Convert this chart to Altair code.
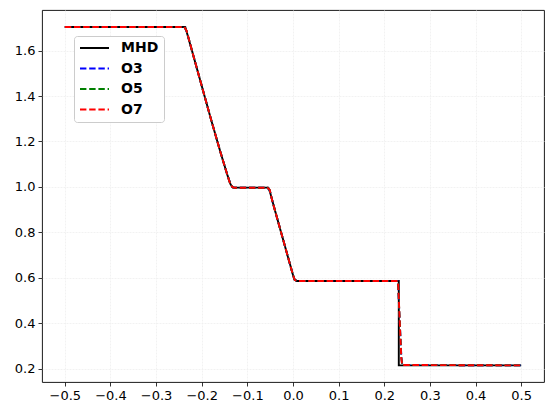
import altair as alt
import pandas as pd

# Exact (MHD) solution
mhd_x = [-0.5, -0.236, -0.22, -0.20, -0.18, -0.16, -0.145, -0.137, -0.132,
         -0.054, -0.050, -0.040, -0.020, 0.0, 0.003, 0.008, 0.2318, 0.2318, 0.5]
mhd_y = [1.704, 1.704, 1.59, 1.445, 1.30, 1.16, 1.06, 1.012, 0.997,
         0.997, 0.975, 0.90, 0.756, 0.612, 0.592, 0.586, 0.586, 0.214, 0.214]

# Numerical solutions
o3_x = [-0.5, -0.238, -0.233, -0.22, -0.20, -0.18, -0.16, -0.145, -0.138, -0.133, -0.128,
        -0.056, -0.051, -0.046, -0.040, -0.020, 0.0, 0.004, 0.009,
        0.2290, 0.2305, 0.2340, 0.2375, 0.2395, 0.5]
o3_y = [1.704, 1.704, 1.685, 1.59, 1.445, 1.30, 1.16, 1.06, 1.018, 1.000, 0.996,
        0.996, 0.985, 0.945, 0.90, 0.756, 0.612, 0.590, 0.586,
        0.586, 0.560, 0.400, 0.250, 0.216, 0.214]
o5_x = [-0.5, -0.238, -0.233, -0.22, -0.20, -0.18, -0.16, -0.145, -0.138, -0.133, -0.128,
        -0.056, -0.051, -0.046, -0.040, -0.020, 0.0, 0.004, 0.009,
        0.2292, 0.2307, 0.2340, 0.2373, 0.2392, 0.5]
o5_y = [1.704, 1.704, 1.686, 1.59, 1.445, 1.30, 1.16, 1.06, 1.017, 1.000, 0.996,
        0.996, 0.986, 0.944, 0.90, 0.756, 0.612, 0.590, 0.586,
        0.586, 0.560, 0.400, 0.250, 0.216, 0.214]
o7_x = [-0.5, -0.238, -0.233, -0.22, -0.20, -0.18, -0.16, -0.145, -0.138, -0.133, -0.128,
        -0.056, -0.051, -0.046, -0.040, -0.020, 0.0, 0.004, 0.009,
        0.2293, 0.2308, 0.2340, 0.2372, 0.2390, 0.5]
o7_y = [1.704, 1.704, 1.687, 1.59, 1.445, 1.30, 1.16, 1.06, 1.016, 1.000, 0.996,
        0.996, 0.987, 0.943, 0.90, 0.756, 0.612, 0.590, 0.586,
        0.586, 0.560, 0.400, 0.250, 0.216, 0.214]

series_names = ["MHD", "O3", "O5", "O7"]
series_colors = ["#000000", "#0000ff", "#008000", "#ff0000"]
series_dash = [[1, 0], [6.4, 2.8], [6.4, 2.8], [6.4, 2.8]]

x_ticks = [-0.5, -0.4, -0.3, -0.2, -0.1, 0.0, 0.1, 0.2, 0.3, 0.4, 0.5]
y_ticks = [0.2, 0.4, 0.6, 0.8, 1.0, 1.2, 1.4, 1.6]

rows = []
for name, xs, ys in zip(series_names, [mhd_x, o3_x, o5_x, o7_x], [mhd_y, o3_y, o5_y, o7_y]):
    for i, (a, b) in enumerate(zip(xs, ys)):
        rows.append({"series": name, "x": a, "y": b, "i": i})
df = pd.DataFrame(rows)

font = "DejaVu Sans"

legend_kw = dict(title=None, orient="none", legendX=32, legendY=26,
                 symbolType="stroke", symbolSize=841, clipHeight=14,
                 symbolStrokeWidth=1.9, labelFont=font,
                 labelFontSize=14, labelFontWeight="bold",
                 labelColor="#000", labelOffset=11,
                 rowPadding=6.5, padding=5,
                 strokeColor="#cccccc", cornerRadius=3,
                 fillColor="#ffffff")

color = alt.Color("series:N",
                  scale=alt.Scale(domain=series_names, range=series_colors),
                  legend=alt.Legend(**legend_kw))
dash = alt.StrokeDash("series:N",
                      scale=alt.Scale(domain=series_names, range=series_dash),
                      legend=alt.Legend(**legend_kw))

xenc = alt.X("x:Q", scale=alt.Scale(domain=[-0.55, 0.55], nice=False, zero=False),
             axis=alt.Axis(values=x_ticks, title=None, grid=True,
                           labelExpr="replace(format(datum.value, '.1f'), '-', '\u2212')"))
yenc = alt.Y("y:Q", scale=alt.Scale(domain=[0.141, 1.779], nice=False, zero=False),
             axis=alt.Axis(values=y_ticks, title=None, grid=True, format=".1f"))

layers = []
for name in series_names:
    layers.append(
        alt.Chart(df).transform_filter(alt.datum.series == name)
        .mark_line(strokeWidth=1.9, clip=True)
        .encode(x=xenc, y=yenc, color=color, strokeDash=dash, order="i:Q")
    )

chart = alt.layer(*layers).properties(
    width=502, height=372,
    background="white",
    autosize=alt.AutoSizeParams(type="none"),
    padding={"left": 34, "top": 2, "right": 2, "bottom": 26},
).configure_view(stroke="#000000", strokeWidth=0.9).configure_axis(
    domain=False, tickColor="#000", tickWidth=0.8, tickSize=4,
    labelFont=font, labelFontSize=13, labelColor="#000", labelPadding=3,
    gridColor="#efefef", gridWidth=0.8, gridDash=[2, 1],
)

chart.save("out.html", embed_options={"renderer": "svg", "actions": False})
